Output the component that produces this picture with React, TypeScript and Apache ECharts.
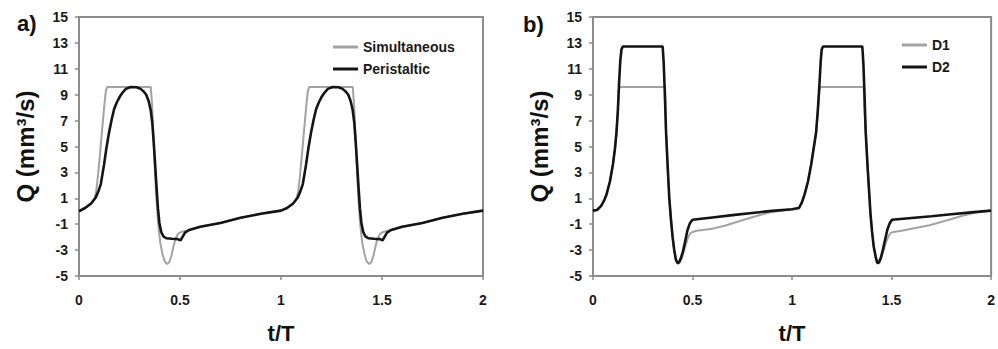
import React, { useEffect, useRef } from "react";
import * as echarts from "echarts";

// Axis ticks
const Q_TICKS = [-5, -3, -1, 1, 3, 5, 7, 9, 11, 13, 15];
const T_MIN = 0;
const T_MAX = 2;
const T_STEP = 0.5;

// Panel a) flow rate Q (mm³/s) against t/T
const simultaneous: [number, number][] = [
  [0, 0], [0.03, 0.25], [0.06, 0.6], [0.075, 0.9], [0.085, 1.5], [0.095, 2.9], [0.105, 4.6],
  [0.115, 6.4], [0.125, 8.1], [0.133, 9.3], [0.14, 9.6], [0.355, 9.6], [0.362, 8.2], [0.368, 6.0],
  [0.375, 3.5], [0.383, 1.0], [0.392, -1.0], [0.402, -2.4], [0.413, -3.3], [0.425, -3.9],
  [0.437, -4.08], [0.448, -3.9], [0.458, -3.4], [0.468, -2.7], [0.478, -2.1], [0.49, -1.75],
  [0.505, -1.6], [0.53, -1.5], [0.55, -1.45], [0.6, -1.2], [0.7, -0.9], [0.8, -0.5], [0.9, -0.2],
  [1.0, 0.05],
  [1.03, 0.25], [1.06, 0.6], [1.075, 0.9], [1.085, 1.5], [1.095, 2.9], [1.105, 4.6],
  [1.115, 6.4], [1.125, 8.1], [1.133, 9.3], [1.14, 9.6], [1.355, 9.6], [1.362, 8.2], [1.368, 6.0],
  [1.375, 3.5], [1.383, 1.0], [1.392, -1.0], [1.402, -2.4], [1.413, -3.3], [1.425, -3.9],
  [1.437, -4.08], [1.448, -3.9], [1.458, -3.4], [1.468, -2.7], [1.478, -2.1], [1.49, -1.75],
  [1.505, -1.6], [1.53, -1.5], [1.55, -1.45], [1.6, -1.2], [1.7, -0.9], [1.8, -0.5], [1.9, -0.2],
  [2.0, 0.05],
];

const peristaltic: [number, number][] = [
  [0, 0], [0.03, 0.25], [0.06, 0.6], [0.083, 1.06], [0.095, 1.5], [0.108, 2.1], [0.124, 3.6],
  [0.136, 4.9], [0.149, 6.1], [0.162, 7.1], [0.174, 7.9], [0.187, 8.4], [0.2, 8.8], [0.215, 9.15],
  [0.232, 9.45], [0.256, 9.6], [0.285, 9.58], [0.305, 9.45], [0.32, 9.25], [0.333, 9.0],
  [0.345, 8.5], [0.355, 7.8], [0.363, 6.8], [0.37, 5.3], [0.377, 3.6], [0.384, 1.8], [0.391, 0.2],
  [0.398, -0.9], [0.407, -1.6], [0.418, -1.95], [0.432, -2.08], [0.46, -2.12], [0.49, -2.15],
  [0.503, -2.25], [0.512, -2.0], [0.525, -1.65], [0.545, -1.45], [0.6, -1.2], [0.7, -0.9],
  [0.8, -0.5], [0.9, -0.2], [1.0, 0.05],
  [1.03, 0.25], [1.06, 0.6], [1.083, 1.06], [1.095, 1.5], [1.108, 2.1], [1.124, 3.6],
  [1.136, 4.9], [1.149, 6.1], [1.162, 7.1], [1.174, 7.9], [1.187, 8.4], [1.2, 8.8], [1.215, 9.15],
  [1.232, 9.45], [1.256, 9.6], [1.285, 9.58], [1.305, 9.45], [1.32, 9.25], [1.333, 9.0],
  [1.345, 8.5], [1.355, 7.8], [1.363, 6.8], [1.37, 5.3], [1.377, 3.6], [1.384, 1.8], [1.391, 0.2],
  [1.398, -0.9], [1.407, -1.6], [1.418, -1.95], [1.432, -2.08], [1.46, -2.12], [1.49, -2.15],
  [1.503, -2.25], [1.512, -2.0], [1.525, -1.65], [1.545, -1.45], [1.6, -1.2], [1.7, -0.9],
  [1.8, -0.5], [1.9, -0.2], [2.0, 0.05],
];

// Panel b) flow rate for the two diameters
const d1: [number, number][] = [
  [0, 0.05], [0.02, 0.1], [0.04, 0.4], [0.055, 0.8], [0.068, 1.3], [0.085, 2.3], [0.1, 3.6],
  [0.11, 4.8], [0.118, 6.1], [0.125, 7.8], [0.13, 9.3], [0.134, 9.6], [0.362, 9.6], [0.367, 6.1],
  [0.375, 3.5], [0.383, 1.06], [0.392, -0.7], [0.4, -2.0], [0.408, -3.0], [0.416, -3.7],
  [0.425, -4.05], [0.434, -4.0], [0.444, -3.7], [0.455, -3.2], [0.466, -2.6], [0.478, -2.0],
  [0.49, -1.7], [0.5, -1.6], [0.52, -1.5], [0.55, -1.45], [0.6, -1.35], [0.665, -1.1],
  [0.75, -0.7], [0.83, -0.33], [0.9, -0.05], [1.0, 0.15],
  [1.035, 0.25], [1.05, 0.7], [1.063, 1.3], [1.08, 2.3], [1.096, 3.6], [1.11, 5.0],
  [1.121, 6.1], [1.13, 7.9], [1.137, 9.3], [1.142, 9.6], [1.36, 9.6], [1.365, 7.5], [1.37, 6.1],
  [1.38, 3.3], [1.394, -0.2], [1.402, -1.6], [1.41, -2.7], [1.42, -3.6], [1.43, -4.05],
  [1.438, -4.0], [1.448, -3.6], [1.46, -3.0], [1.472, -2.4], [1.485, -1.9], [1.497, -1.65],
  [1.51, -1.6], [1.55, -1.5], [1.6, -1.35], [1.69, -1.08], [1.78, -0.7], [1.86, -0.33],
  [1.93, -0.08], [2.0, 0.05],
];

const d2: [number, number][] = [
  [0, 0.05], [0.02, 0.1], [0.04, 0.4], [0.055, 0.8], [0.068, 1.3], [0.085, 2.3], [0.1, 3.6],
  [0.11, 4.8], [0.118, 6.1], [0.125, 7.8], [0.131, 9.9], [0.137, 11.6], [0.143, 12.5],
  [0.15, 12.72], [0.35, 12.72], [0.355, 11.5], [0.36, 9.5], [0.367, 6.1], [0.375, 3.5],
  [0.383, 1.06], [0.392, -0.7], [0.4, -2.0], [0.408, -3.0], [0.416, -3.7], [0.424, -4.0],
  [0.432, -3.95], [0.442, -3.6], [0.452, -3.1], [0.462, -2.4], [0.474, -1.5], [0.486, -0.95],
  [0.5, -0.66], [0.6, -0.48], [0.7, -0.3], [0.8, -0.13], [0.9, 0.03], [1.0, 0.15],
  [1.035, 0.25], [1.05, 0.7], [1.063, 1.3], [1.08, 2.3], [1.096, 3.6], [1.11, 5.0],
  [1.121, 6.1], [1.13, 7.9], [1.138, 9.9], [1.144, 11.6], [1.149, 12.5], [1.156, 12.72],
  [1.353, 12.72], [1.358, 11.5], [1.363, 9.5], [1.37, 6.1], [1.38, 3.3], [1.394, -0.2],
  [1.402, -1.6], [1.41, -2.7], [1.42, -3.5], [1.428, -4.0], [1.436, -3.95], [1.446, -3.6],
  [1.456, -3.0], [1.466, -2.3], [1.478, -1.46], [1.49, -0.95], [1.502, -0.66], [1.6, -0.52],
  [1.7, -0.38], [1.8, -0.23], [1.9, -0.09], [2.0, 0.05],
];

const FONT = "'Liberation Sans', Arial, Helvetica, sans-serif";
const AXIS_GRAY = "#8c8c8c";
const LIGHT = "#a3a3a3";
const DARK = "#141414";

function xAxisFor(gridIndex: number) {
  return {
    type: "value",
    gridIndex,
    min: T_MIN,
    max: T_MAX,
    interval: T_STEP,
    name: "t/T",
    nameLocation: "middle",
    nameGap: 46,
    nameTextStyle: { fontFamily: FONT, fontWeight: "bold", fontSize: 22, color: "#111" },
    axisLine: { show: true, onZero: false, lineStyle: { color: AXIS_GRAY, width: 2 } },
    axisTick: { show: true, length: 4, lineStyle: { color: AXIS_GRAY, width: 1.5 } },
    axisLabel: { margin: 17, fontFamily: FONT, fontSize: 14, fontWeight: "bold", color: "#1a1a1a" },
    splitLine: { show: false },
  };
}

function yAxisFor(gridIndex: number) {
  return {
    type: "value",
    gridIndex,
    min: Q_TICKS[0],
    max: Q_TICKS[Q_TICKS.length - 1],
    name: "Q (mm³/s)",
    nameLocation: "middle",
    nameRotate: 90,
    nameGap: 42,
    nameTextStyle: { fontFamily: FONT, fontWeight: "bold", fontSize: 24, color: "#111" },
    axisLine: { show: true, onZero: false, lineStyle: { color: AXIS_GRAY, width: 2 } },
    axisTick: { show: true, length: 4, customValues: Q_TICKS, lineStyle: { color: AXIS_GRAY, width: 1.5 } },
    axisLabel: {
      margin: 11,
      customValues: Q_TICKS,
      fontFamily: FONT,
      fontSize: 14,
      fontWeight: "bold",
      color: "#1a1a1a",
    },
    splitLine: { show: false },
  };
}

function lineSeries(name: string, data: [number, number][], idx: number, color: string, width: number) {
  return {
    type: "line",
    name,
    xAxisIndex: idx,
    yAxisIndex: idx,
    data,
    showSymbol: false,
    symbol: "none",
    smooth: false,
    lineStyle: { color, width },
    itemStyle: { color },
  };
}

function legendAt(left: number, top: number, names: string[]) {
  return {
    orient: "vertical",
    left,
    top,
    icon: "rect",
    itemWidth: 25,
    itemHeight: 3,
    itemGap: 6,
    data: names,
    selectedMode: false,
    textStyle: { fontFamily: FONT, fontSize: 14, fontWeight: "bold", color: "#1a1a1a", lineHeight: 16 },
  };
}

export default function App() {
  const ref = useRef<HTMLDivElement>(null);

  useEffect(() => {
    if (!ref.current) return;
    const chart = echarts.init(ref.current, undefined, { renderer: "svg" });
    chart.setOption({
      animation: false,
      backgroundColor: "#ffffff",
      grid: [
        { left: 79, top: 17, width: 404, height: 263, show: true, borderColor: AXIS_GRAY, borderWidth: 2, backgroundColor: "transparent" },
        { left: 593, top: 17, width: 402, height: 263, show: true, borderColor: AXIS_GRAY, borderWidth: 2, backgroundColor: "transparent" },
      ],
      xAxis: [xAxisFor(0), xAxisFor(1)],
      yAxis: [yAxisFor(0), yAxisFor(1)],
      legend: [
        legendAt(328, 34, ["Simultaneous", "Peristaltic"]),
        legendAt(897, 32, ["D1", "D2"]),
      ],
      graphic: [
        { type: "text", left: 17, top: 12, style: { text: "a)", fontFamily: FONT, fontWeight: "bold", fontSize: 22, fill: "#111" } },
        { type: "text", left: 523, top: 13, style: { text: "b)", fontFamily: FONT, fontWeight: "bold", fontSize: 22, fill: "#111" } },
      ],
      series: [
        lineSeries("Simultaneous", simultaneous, 0, LIGHT, 2),
        lineSeries("Peristaltic", peristaltic, 0, DARK, 2.6),
        lineSeries("D1", d1, 1, LIGHT, 2),
        lineSeries("D2", d2, 1, DARK, 2.6),
      ],
    });
    return () => chart.dispose();
  }, []);

  return (
    <div
      ref={ref}
      style={{ position: "fixed", left: 0, top: 0, width: 998, height: 349, background: "#fff" }}
    />
  );
}
